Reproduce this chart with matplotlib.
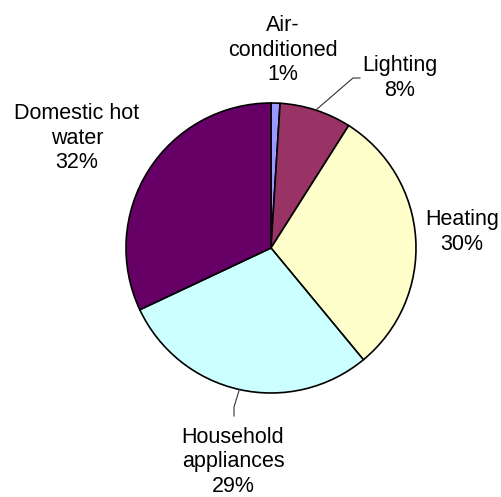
import numpy as np
import matplotlib.pyplot as plt

plt.rcParams['font.family'] = ['Liberation Sans', 'DejaVu Sans']

labels = ['Air-\nconditioned', 'Lighting', 'Heating', 'Household\nappliances', 'Domestic hot\nwater']
shares = [1, 8, 30, 29, 32]
colors = ['#9999FF', '#993366', '#FFFFCC', '#CCFFFF', '#660066']

fig = plt.figure(figsize=(5.02, 4.97), dpi=100)
ax = fig.add_axes([0, 0, 1, 1])
ax.set_xlim(0, 502)
ax.set_ylim(0, 497)
ax.set_aspect('equal')
ax.axis('off')

cx, cy, r = 271, 249, 145
wedges, _ = ax.pie(shares, colors=colors, startangle=90, counterclock=False,
                   center=(cx, cy), radius=r, frame=True,
                   wedgeprops=dict(edgecolor='black', linewidth=1.2))
ax.set_xlim(0, 502)
ax.set_ylim(0, 497)
ax.axis('off')

# label positions (pixels, y up)
label_pos = [(283, 447), (400, 419), (462, 265), (233, 35), (77, 359)]
for lab, s, (x, y) in zip(labels, shares, label_pos):
    ax.text(x, y, f'{lab}\n{s}%', ha='center', va='center', fontsize=15.5,
            linespacing=1.2, color='black')

# leader lines
def edge_point(i):
    w = wedges[i]
    a = np.radians((w.theta1 + w.theta2) / 2)
    return cx + r * np.cos(a), cy + r * np.sin(a)

x0, y0 = edge_point(1)
ax.plot([x0, 353, 360], [y0, 419, 419], color='#333333', lw=0.8)
x0, y0 = edge_point(3)
ax.plot([x0, 234, 234], [y0, 90, 81], color='#333333', lw=0.8)

fig.savefig('out.png', dpi=100)
